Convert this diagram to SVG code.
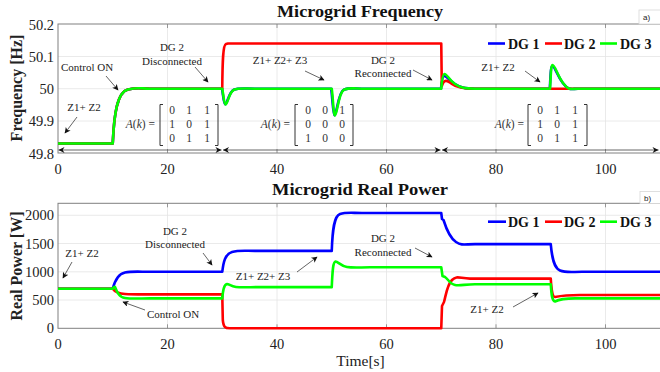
<svg xmlns="http://www.w3.org/2000/svg" width="660" height="372" viewBox="0 0 660 372">
  <style>
    .frame { fill: none; stroke: #808080; stroke-width: 1; }
    .grid { stroke: #e4e4e4; stroke-width: 0.8; fill: none; }
    .tick { stroke: #808080; stroke-width: 0.8; }
    .tl { font-family: "Liberation Serif", "Times New Roman", serif; font-size: 14.5px; fill: #222; }
    .title { font-family: "Liberation Serif", "Times New Roman", serif; font-size: 17px; font-weight: bold; fill: #111; }
    .ylab { font-family: "Liberation Serif", "Times New Roman", serif; font-size: 16px; font-weight: bold; fill: #222; }
    .xlab { font-family: "Liberation Serif", "Times New Roman", serif; font-size: 15.5px; fill: #222; }
    .leg { font-family: "Liberation Serif", "Times New Roman", serif; font-size: 14px; font-weight: bold; fill: #111; }
    .ann { font-family: "Liberation Serif", "Times New Roman", serif; font-size: 11px; fill: #222; text-anchor: middle; }
    .mat { font-family: "Liberation Serif", "Times New Roman", serif; font-size: 11.5px; fill: #333; text-anchor: middle; }
    .meq { font-family: "Liberation Serif", "Times New Roman", serif; font-size: 11.5px; fill: #333; text-anchor: end; }
    .brk { fill: none; stroke: #333; stroke-width: 1; }
    .tag { font-family: "Liberation Sans", Arial, sans-serif; font-size: 8px; fill: #222; }
    .tagbox { fill: #fff; stroke: #d8d8d8; stroke-width: 0.8; }
    .c1 { fill: none; stroke: #0000ff; stroke-width: 2.6; stroke-linejoin: round; }
    .c2 { fill: none; stroke: #ff0000; stroke-width: 2.6; stroke-linejoin: round; }
    .c3 { fill: none; stroke: #00ff00; stroke-width: 2.6; stroke-linejoin: round; }
    .pt { stroke: #222; stroke-width: 0.7; fill: none; marker-end: url(#ah); }
    .span { stroke: #555; stroke-width: 0.9; fill: none; }
  </style>
  <defs>
    <marker id="ah" viewBox="0 0 10 10" refX="9" refY="5" markerWidth="8" markerHeight="6" markerUnits="userSpaceOnUse" orient="auto">
      <path d="M0,0 L10,5 L0,10 L2.5,5 Z" fill="#111"/>
    </marker>
    <marker id="sh" viewBox="0 0 10 10" refX="10" refY="5" markerWidth="9" markerHeight="6" markerUnits="userSpaceOnUse" orient="auto-start-reverse">
      <path d="M0,0 L10,5 L0,10 L3,5 Z" fill="#111"/>
    </marker>
  </defs>

  <rect width="660" height="372" fill="#fff"/>

  <!-- ===== Panel a: frequency ===== -->
  <g id="panel-a-axes">
    <g class="grid">
      <line x1="167.5" y1="24" x2="167.5" y2="153"/>
      <line x1="277" y1="24" x2="277" y2="153"/>
      <line x1="386.5" y1="24" x2="386.5" y2="153"/>
      <line x1="496" y1="24" x2="496" y2="153"/>
      <line x1="605.5" y1="24" x2="605.5" y2="153"/>
      <line x1="58" y1="56.5" x2="660" y2="56.5"/>
      <line x1="58" y1="88.7" x2="660" y2="88.7"/>
      <line x1="58" y1="121" x2="660" y2="121"/>
    </g>
    <rect class="frame" x="58" y="24" width="604" height="129"/>
    <g class="tick">
      <line x1="167.5" y1="153" x2="167.5" y2="149"/><line x1="277" y1="153" x2="277" y2="149"/>
      <line x1="386.5" y1="153" x2="386.5" y2="149"/><line x1="496" y1="153" x2="496" y2="149"/>
      <line x1="605.5" y1="153" x2="605.5" y2="149"/>
      <line x1="167.5" y1="24" x2="167.5" y2="28"/><line x1="277" y1="24" x2="277" y2="28"/>
      <line x1="386.5" y1="24" x2="386.5" y2="28"/><line x1="496" y1="24" x2="496" y2="28"/>
      <line x1="605.5" y1="24" x2="605.5" y2="28"/>
    </g>
    <g class="tl" text-anchor="end">
      <text x="54" y="29.5">50.2</text>
      <text x="54" y="61.5">50.1</text>
      <text x="54" y="94">50</text>
      <text x="54" y="126">49.9</text>
      <text x="54" y="158.5">49.8</text>
    </g>
    <g class="tl" text-anchor="middle">
      <text x="58" y="173.5">0</text>
      <text x="167.5" y="173.5">20</text>
      <text x="277" y="173.5">40</text>
      <text x="386.5" y="173.5">60</text>
      <text x="496" y="173.5">80</text>
      <text x="605.5" y="173.5">100</text>
    </g>
    <text class="title" x="360" y="17" text-anchor="middle" textLength="166" lengthAdjust="spacingAndGlyphs">Microgrid Frequency</text>
    <text class="ylab" transform="translate(22,88) rotate(-90)" text-anchor="middle">Frequency [Hz]</text>
    <rect class="tagbox" x="639" y="10" width="22" height="14"/>
    <text class="tag" x="643" y="20">a)</text>
  </g>

  <g id="panel-a-curves">
    <path class="c1" d="M58,143.5 L112.75,143.5 C114,115 117,92 128,89.5 S140,88.7 150,88.7 L222,88.7 C223.2,95 223.7,104 225.2,104.3 C227.3,104.3 228.8,92 233.8,89.8 S245,88.7 255,88.7 L331.2,88.7 C332.5,98 333,115 334.6,115.3 C336.6,115.3 338.2,92 343.8,89.7 S355,88.7 365,88.7 L441,88.7 C441.8,80 442.8,76 444.3,76 C446.8,76 449,80 455,84 S465,88.7 475,88.7 L549.8,88.7 C550.6,75 550.8,66 552.3,66 C554.8,66 556.8,75 562.8,83 S571,88.7 578,88.7 L660,88.7"/>
    <path class="c2" d="M58,143.5 L112.75,143.5 C114,115 117,92 128,89.5 S140,88.7 150,88.7 L222.25,88.7 C222.5,60 223,45 226,44 L228,43.5 L441.25,43.5 L441.8,86 C444,79 447,80 452,84 S465,88.7 475,88.7 L660,88.7"/>
    <path class="c3" d="M58,143.5 L112.75,143.5 C114,115 117,92 128,89.5 S140,88.7 150,88.7 L222.25,88.7 C223.5,95 224,104.5 225.5,104.5 C227.5,104.5 229,92 234,89.8 S245,88.7 255,88.7 L331.75,88.7 C333,98 333.5,115.5 335,115.5 C337,115.5 338.5,92 344,89.7 S355,88.7 365,88.7 L441.25,88.7 C442,80 443,74 444.5,74 C447,74 449,80 455,84 S465,88.7 475,88.7 L550,88.7 C550.8,75 551,65 552.5,65 C555,65 557,75 563,83 S571,88.7 578,88.7 L660,88.7"/>
  </g>

  <g id="legend-a">
    <line x1="488" y1="43.5" x2="505" y2="43.5" stroke="#0000ff" stroke-width="2.6"/>
    <text class="leg" x="508" y="48.5">DG 1</text>
    <line x1="545" y1="43.5" x2="562" y2="43.5" stroke="#ff0000" stroke-width="2.6"/>
    <text class="leg" x="564" y="48.5">DG 2</text>
    <line x1="600" y1="43.5" x2="617" y2="43.5" stroke="#00ff00" stroke-width="2.6"/>
    <text class="leg" x="620" y="48.5">DG 3</text>
  </g>

  <!-- adjacency matrices -->
  <g id="matrix-1">
    <text class="meq" x="155" y="128"><tspan font-style="italic">A</tspan>(<tspan font-style="italic">k</tspan>) =</text>
    <path class="brk" d="M163,104.5 H160 V145.5 H163 M215,104.5 H218 V145.5 H215"/>
    <text class="mat" x="172" y="114">0</text><text class="mat" x="189" y="114">1</text><text class="mat" x="207" y="114">1</text>
    <text class="mat" x="172" y="128">1</text><text class="mat" x="189" y="128">0</text><text class="mat" x="207" y="128">1</text>
    <text class="mat" x="172" y="142">0</text><text class="mat" x="189" y="142">1</text><text class="mat" x="207" y="142">1</text>
  </g>
  <g id="matrix-2">
    <text class="meq" x="290" y="128"><tspan font-style="italic">A</tspan>(<tspan font-style="italic">k</tspan>) =</text>
    <path class="brk" d="M298,104.5 H295 V145.5 H298 M350,104.5 H353 V145.5 H350"/>
    <text class="mat" x="308" y="114">0</text><text class="mat" x="325" y="114">0</text><text class="mat" x="342" y="114">1</text>
    <text class="mat" x="308" y="128">0</text><text class="mat" x="325" y="128">0</text><text class="mat" x="342" y="128">0</text>
    <text class="mat" x="308" y="142">1</text><text class="mat" x="325" y="142">0</text><text class="mat" x="342" y="142">0</text>
  </g>
  <g id="matrix-3">
    <text class="meq" x="524" y="128"><tspan font-style="italic">A</tspan>(<tspan font-style="italic">k</tspan>) =</text>
    <path class="brk" d="M531,104.5 H528 V145.5 H531 M584,104.5 H587 V145.5 H584"/>
    <text class="mat" x="540" y="114">0</text><text class="mat" x="557" y="114">1</text><text class="mat" x="575" y="114">1</text>
    <text class="mat" x="540" y="128">1</text><text class="mat" x="557" y="128">0</text><text class="mat" x="575" y="128">1</text>
    <text class="mat" x="540" y="142">0</text><text class="mat" x="557" y="142">1</text><text class="mat" x="575" y="142">1</text>
  </g>

  <g id="labels-a">
    <text class="ann" x="84" y="111">Z1+ Z2</text>
    <text class="ann" x="87" y="71">Control ON</text>
    <text class="ann" x="172" y="51">DG 2</text>
    <text class="ann" x="172" y="64.5">Disconnected</text>
    <text class="ann" x="280" y="64">Z1+ Z2+ Z3</text>
    <text class="ann" x="383" y="64">DG 2</text>
    <text class="ann" x="383" y="77">Reconnected</text>
    <text class="ann" x="498" y="71">Z1+ Z2</text>
  </g>

  <!-- ===== Panel b: real power ===== -->
  <g id="panel-b-axes">
    <g class="grid">
      <line x1="167.5" y1="203.3" x2="167.5" y2="328.3"/>
      <line x1="277" y1="203.3" x2="277" y2="328.3"/>
      <line x1="386.5" y1="203.3" x2="386.5" y2="328.3"/>
      <line x1="496" y1="203.3" x2="496" y2="328.3"/>
      <line x1="605.5" y1="203.3" x2="605.5" y2="328.3"/>
      <line x1="58" y1="215.3" x2="660" y2="215.3"/>
      <line x1="58" y1="243.5" x2="660" y2="243.5"/>
      <line x1="58" y1="271.8" x2="660" y2="271.8"/>
      <line x1="58" y1="300" x2="660" y2="300"/>
    </g>
    <rect class="frame" x="58" y="203.3" width="604" height="125"/>
    <g class="tick">
      <line x1="167.5" y1="328.3" x2="167.5" y2="324.3"/><line x1="277" y1="328.3" x2="277" y2="324.3"/>
      <line x1="386.5" y1="328.3" x2="386.5" y2="324.3"/><line x1="496" y1="328.3" x2="496" y2="324.3"/>
      <line x1="605.5" y1="328.3" x2="605.5" y2="324.3"/>
      <line x1="167.5" y1="203.3" x2="167.5" y2="207.3"/><line x1="277" y1="203.3" x2="277" y2="207.3"/>
      <line x1="386.5" y1="203.3" x2="386.5" y2="207.3"/><line x1="496" y1="203.3" x2="496" y2="207.3"/>
      <line x1="605.5" y1="203.3" x2="605.5" y2="207.3"/>
    </g>
    <g class="tl" text-anchor="end">
      <text x="54" y="220.3">2000</text>
      <text x="54" y="248.5">1500</text>
      <text x="54" y="276.8">1000</text>
      <text x="54" y="305">500</text>
      <text x="54" y="333.3">0</text>
    </g>
    <g class="tl" text-anchor="middle">
      <text x="58" y="348.5">0</text>
      <text x="167.5" y="348.5">20</text>
      <text x="277" y="348.5">40</text>
      <text x="386.5" y="348.5">60</text>
      <text x="496" y="348.5">80</text>
      <text x="605.5" y="348.5">100</text>
    </g>
    <text class="title" x="360" y="195" text-anchor="middle" textLength="176" lengthAdjust="spacingAndGlyphs">Microgrid Real Power</text>
    <text class="ylab" transform="translate(22,266) rotate(-90)" text-anchor="middle">Real Power [W]</text>
    <text class="xlab" x="360.5" y="366" text-anchor="middle">Time[s]</text>
    <rect class="tagbox" x="640" y="191.5" width="21" height="12"/>
    <text class="tag" x="644" y="200.5">b)</text>
  </g>

  <g id="panel-b-curves">
    <path class="c1" d="M58,288.75 L112.75,288.75 C115,280 118,274 125,272.5 S140,271.8 150,271.8 L222.25,271.8 C223.5,262 225,254 232,252 S245,250.9 255,250.9 L331.75,250.9 C332.5,230 334,216 340,214 S352,213 362,213 L441.25,213 L442,219 L443.5,220 C446,228 450,238 456,242 S465,244.1 475,244.1 L550.75,244.1 C552,258 554,268 560,270.5 S572,271.8 582,271.8 L660,271.8"/>
    <path class="c2" d="M58,288.75 L112.75,288.75 C115,292 118,293.5 125,294 S140,294.4 150,294.4 L222.25,294.4 L222.8,320 C223.5,327 225,328.3 230,328.3 L441.25,328.3 L442,306 L444,302 C446,295 447,285 452,280 S460,278.6 470,278.6 L550.75,278.6 C551.5,290 552,297 555,297 C560,296 565,295 580,295 L660,295"/>
    <path class="c3" d="M58,288.75 L112.75,288.75 C113.5,287.5 114,286.5 115,287 C117,292 119,297 125,298 S140,298.4 150,298.4 L222.25,298.4 C223,290 224,284.5 227,284 C229,284 231,286.5 236,287 S250,287.1 260,287.1 L331.75,287.1 C332.5,270 333,262 335.5,261.5 C338,261.5 341,266 347,267 S360,267.3 370,267.3 L441.25,267.3 L442.5,276 L445,277 C448,279 450,284 455,285 S465,284.2 475,284.2 L550.75,284.2 C551.5,295 552,301 555,301.5 C558,300 562,298.5 575,298.4 L660,298.4"/>
  </g>

  <g id="legend-b">
    <line x1="488" y1="221.7" x2="506" y2="221.7" stroke="#0000ff" stroke-width="2.6"/>
    <text class="leg" x="508" y="226.7">DG 1</text>
    <line x1="545" y1="221.7" x2="562" y2="221.7" stroke="#ff0000" stroke-width="2.6"/>
    <text class="leg" x="564" y="226.7">DG 2</text>
    <line x1="600" y1="221.7" x2="617" y2="221.7" stroke="#00ff00" stroke-width="2.6"/>
    <text class="leg" x="620" y="226.7">DG 3</text>
  </g>

  <g id="labels-b">
    <text class="ann" x="82" y="257">Z1+ Z2</text>
    <text class="ann" x="175" y="235">DG 2</text>
    <text class="ann" x="175" y="248">Disconnected</text>
    <text class="ann" x="173" y="318">Control ON</text>
    <text class="ann" x="263" y="280">Z1+ Z2+ Z3</text>
    <text class="ann" x="383" y="242">DG 2</text>
    <text class="ann" x="383" y="256">Reconnected</text>
    <text class="ann" x="487" y="313">Z1+ Z2</text>
  </g>

  <!-- pointer arrows and topology interval spans -->
  <g id="connectors">
    <line class="pt" x1="77" y1="117" x2="65" y2="133"/>
    <line class="pt" x1="106" y1="76" x2="118" y2="90"/>
    <line class="pt" x1="195" y1="67" x2="208" y2="82"/>
    <line class="pt" x1="305" y1="71" x2="324" y2="80"/>
    <line class="pt" x1="413" y1="70" x2="432" y2="80"/>
    <line class="pt" x1="525" y1="71" x2="540" y2="82"/>

    <line class="pt" x1="72" y1="262" x2="63" y2="278"/>
    <line class="pt" x1="203" y1="253" x2="212" y2="265"/>
    <line class="pt" x1="145" y1="310" x2="123" y2="302"/>
    <line class="pt" x1="297" y1="272" x2="317" y2="257"/>
    <line class="pt" x1="415" y1="248" x2="432" y2="257"/>
    <line class="pt" x1="513" y1="307" x2="538" y2="293"/>

    <line class="span" x1="58.5" y1="150" x2="221.5" y2="150" marker-start="url(#sh)" marker-end="url(#sh)"/>
    <line class="span" x1="223" y1="150" x2="440.5" y2="150" marker-start="url(#sh)" marker-end="url(#sh)"/>
    <line class="span" x1="442" y1="150" x2="658.5" y2="150" marker-start="url(#sh)" marker-end="url(#sh)"/>
  </g>
</svg>
